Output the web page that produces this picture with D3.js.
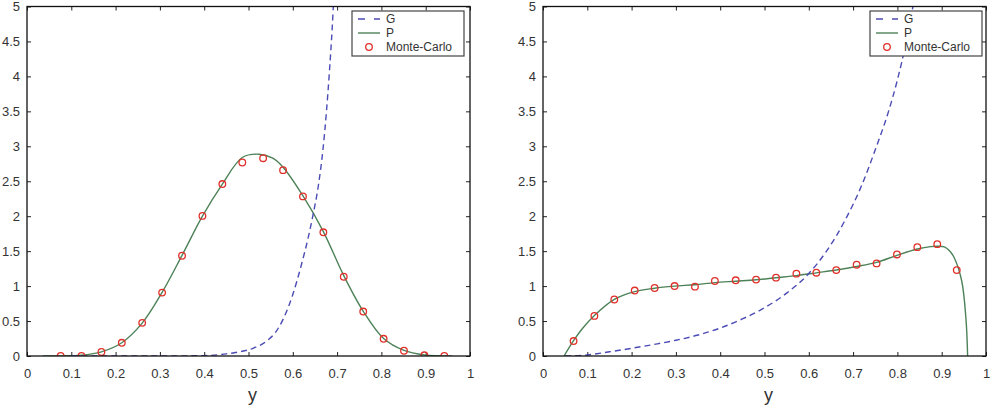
<!DOCTYPE html>
<html>
<head>
<meta charset="utf-8">
<script src="https://cdn.jsdelivr.net/npm/d3@7"></script>
<style>
  html, body { margin: 0; padding: 0; background: #fff; }
  svg text { font-family: "Liberation Sans", Arial, Helvetica, sans-serif; fill: #333; }
</style>
</head>
<body>
<svg id="chart" width="994" height="408"></svg>
<script>
// ---- Data ----
const xTicks = [0, 0.1, 0.2, 0.3, 0.4, 0.5, 0.6, 0.7, 0.8, 0.9, 1];
const yTicks = [0, 0.5, 1, 1.5, 2, 2.5, 3, 3.5, 4, 4.5, 5];
const xTickLabels = ["0", "0.1", "0.2", "0.3", "0.4", "0.5", "0.6", "0.7", "0.8", "0.9", "1"];
const yTickLabels = ["0", "0.5", "1", "1.5", "2", "2.5", "3", "3.5", "4", "4.5", "5"];
const legendLabels = ["G", "P", "Monte-Carlo"];
const xLabel = "y";

// Left panel
const leftGx = [0.10, 0.30, 0.40, 0.45, 0.48, 0.51, 0.54, 0.56, 0.58, 0.60, 0.62, 0.635, 0.646, 0.658, 0.668, 0.676, 0.683, 0.689, 0.693, 0.696];
const leftGy = [0.0, 0.0, 0.005, 0.03, 0.06, 0.11, 0.21, 0.33, 0.55, 0.88, 1.32, 1.70, 2.03, 2.45, 2.95, 3.5, 4.1, 4.7, 5.2, 5.6];
const leftPx = [0.036, 0.076, 0.123, 0.168, 0.214, 0.260, 0.305, 0.350, 0.396, 0.441, 0.486, 0.524, 0.555, 0.578, 0.623, 0.669, 0.715, 0.759, 0.805, 0.851, 0.897, 0.960];
const leftPy = [0.0, 0.002, 0.012, 0.06, 0.19, 0.47, 0.91, 1.44, 2.00, 2.46, 2.84, 2.887, 2.83, 2.70, 2.29, 1.78, 1.15, 0.64, 0.25, 0.08, 0.015, 0.0];
const leftMCx = [0.076, 0.123, 0.168, 0.214, 0.260, 0.305, 0.350, 0.396, 0.441, 0.486, 0.533, 0.578, 0.623, 0.669, 0.715, 0.759, 0.805, 0.851, 0.897, 0.942];
const leftMCy = [0.0, 0.0, 0.057, 0.189, 0.474, 0.907, 1.434, 2.004, 2.460, 2.768, 2.830, 2.659, 2.283, 1.770, 1.134, 0.636, 0.246, 0.075, 0.01, 0.0];

// Right panel
const rightGx = [0.05, 0.10, 0.15, 0.20, 0.25, 0.30, 0.35, 0.40, 0.45, 0.50, 0.55, 0.60, 0.64, 0.68, 0.72, 0.75, 0.78, 0.80, 0.82, 0.835, 0.845];
const rightGy = [0.0, 0.015, 0.06, 0.11, 0.165, 0.225, 0.30, 0.40, 0.53, 0.69, 0.90, 1.18, 1.50, 1.92, 2.45, 2.95, 3.5, 3.95, 4.5, 5.0, 5.4];
const rightPx = [0.0475, 0.069, 0.090, 0.116, 0.161, 0.207, 0.252, 0.297, 0.343, 0.388, 0.435, 0.481, 0.526, 0.572, 0.617, 0.662, 0.708, 0.753, 0.799, 0.845, 0.875, 0.891, 0.906, 0.917, 0.928, 0.945, 0.955, 0.9585];
const rightPy = [0.0, 0.22, 0.40, 0.58, 0.81, 0.92, 0.97, 1.00, 1.02, 1.05, 1.07, 1.09, 1.12, 1.15, 1.19, 1.23, 1.28, 1.34, 1.44, 1.53, 1.565, 1.57, 1.56, 1.51, 1.41, 1.08, 0.51, 0.0];
const rightMCx = [0.069, 0.116, 0.161, 0.207, 0.252, 0.297, 0.343, 0.388, 0.435, 0.481, 0.526, 0.572, 0.617, 0.662, 0.708, 0.753, 0.799, 0.845, 0.890, 0.934];
const rightMCy = [0.214, 0.574, 0.808, 0.936, 0.973, 1.001, 0.992, 1.073, 1.083, 1.093, 1.121, 1.178, 1.192, 1.229, 1.306, 1.325, 1.453, 1.557, 1.600, 1.229];

// ---- Styles ----
const colG = "#4b4bb4";
const colP = "#4d8258";
const colMC = "#e0302a";

const svg = d3.select("#chart");

const panels = [
  { left: 27, right: 470, top: 6.5, bottom: 356, Gx: leftGx, Gy: leftGy, Px: leftPx, Py: leftPy, Mx: leftMCx, My: leftMCy, legRight: 464, legTop: 11, id: "a" },
  { left: 543, right: 986, top: 6.5, bottom: 356, Gx: rightGx, Gy: rightGy, Px: rightPx, Py: rightPy, Mx: rightMCx, My: rightMCy, legRight: 982, legTop: 11, id: "b" }
];

panels.forEach(p => {
  const x = d3.scaleLinear().domain([0, 1]).range([p.left, p.right]);
  const y = d3.scaleLinear().domain([0, 5]).range([p.bottom, p.top]);
  const g = svg.append("g");

  g.append("clipPath").attr("id", "clip-" + p.id)
    .append("rect").attr("x", p.left).attr("y", p.top)
    .attr("width", p.right - p.left).attr("height", p.bottom - p.top);

  // Axes (ticks inside, box)
  const axB = d3.axisBottom(x).tickValues(xTicks).tickSize(-4).tickPadding(13)
    .tickFormat((d, i) => xTickLabels[i]);
  const axT = d3.axisTop(x).tickValues(xTicks).tickSize(-4).tickFormat("");
  const axL = d3.axisLeft(y).tickValues(yTicks).tickSize(-4).tickPadding(7)
    .tickFormat((d, i) => yTickLabels[i]);
  const axR = d3.axisRight(y).tickValues(yTicks).tickSize(-4).tickFormat("");

  const styleAxis = sel => {
    sel.select(".domain").remove();
    sel.selectAll(".tick line").attr("stroke", "#222").attr("stroke-width", 1);
    sel.selectAll(".tick text").attr("font-size", 13).attr("fill", "#333")
      .style("font-family", '"Liberation Sans", Arial, sans-serif');
  };
  g.append("g").attr("transform", `translate(0,${p.bottom})`).call(axB).call(styleAxis);
  g.append("g").attr("transform", `translate(0,${p.top})`).call(axT).call(styleAxis);
  g.append("g").attr("transform", `translate(${p.left},0)`).call(axL).call(styleAxis);
  g.append("g").attr("transform", `translate(${p.right},0)`).call(axR).call(styleAxis);

  // curves
  const lineG = d3.line().x(d => x(d[0])).y(d => y(d[1])).curve(d3.curveMonotoneX);
  const lineP = d3.line().x(d => x(d[0])).y(d => y(d[1])).curve(d3.curveCatmullRom.alpha(0.5));
  const plot = g.append("g").attr("clip-path", `url(#clip-${p.id})`);

  const Gdata = p.Gx.map((v, i) => [v, p.Gy[i]]);
  const Pdata = p.Px.map((v, i) => [v, p.Py[i]]);
  const Mdata = p.Mx.map((v, i) => [v, p.My[i]]);

  plot.append("path").datum(Pdata).attr("d", lineP)
    .attr("fill", "none").attr("stroke", colP).attr("stroke-width", 1.4);
  plot.append("path").datum(Gdata).attr("d", lineG)
    .attr("fill", "none").attr("stroke", colG).attr("stroke-width", 1.4)
    .attr("stroke-dasharray", "6,4");
  plot.selectAll("circle").data(Mdata).join("circle")
    .attr("cx", d => x(d[0])).attr("cy", d => y(d[1])).attr("r", 3.3)
    .attr("fill", "none").attr("stroke", colMC).attr("stroke-width", 1.3);

  // frame
  g.append("rect").attr("x", p.left).attr("y", p.top)
    .attr("width", p.right - p.left).attr("height", p.bottom - p.top)
    .attr("fill", "none").attr("stroke", "#111").attr("stroke-width", 1.3);

  // x label
  g.append("text").attr("x", (p.left + p.right) / 2 + 4).attr("y", 401)
    .attr("text-anchor", "middle").attr("font-size", 18).attr("fill", "#333").text(xLabel);

  // legend
  const lw = 112, lh = 45;
  const lx = p.legRight - lw, ly = p.legTop;
  const leg = g.append("g");
  leg.append("rect").attr("x", lx).attr("y", ly).attr("width", lw).attr("height", lh)
    .attr("fill", "#fff").attr("stroke", "#444").attr("stroke-width", 1.2);
  const rows = [ly + 8, ly + 22, ly + 36];
  leg.append("line").attr("x1", lx + 6).attr("x2", lx + 28).attr("y1", rows[0]).attr("y2", rows[0])
    .attr("stroke", colG).attr("stroke-width", 1.4).attr("stroke-dasharray", "7,9");
  leg.append("line").attr("x1", lx + 6).attr("x2", lx + 28).attr("y1", rows[1]).attr("y2", rows[1])
    .attr("stroke", colP).attr("stroke-width", 1.4);
  leg.append("circle").attr("cx", lx + 17).attr("cy", rows[2]).attr("r", 3.3)
    .attr("fill", "none").attr("stroke", colMC).attr("stroke-width", 1.3);
  legendLabels.forEach((t, i) => {
    leg.append("text").attr("x", lx + 34).attr("y", rows[i]).attr("dy", "0.36em")
      .attr("font-size", 12).attr("fill", "#333").text(t);
  });
});
</script>
</body>
</html>
